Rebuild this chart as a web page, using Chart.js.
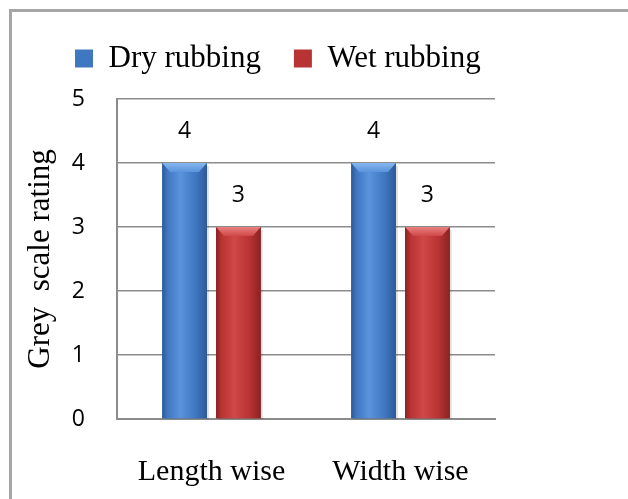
<!DOCTYPE html>
<html>
<head>
<meta charset="utf-8">
<script src="https://cdn.jsdelivr.net/npm/chart.js@4/dist/chart.umd.min.js"></script>
<style>
  html, body { margin: 0; padding: 0; background: #fff; }
  #wrap { position: relative; width: 628px; height: 499px; }
  #frame {
    position: absolute; left: 9px; top: 9px; right: 0; bottom: 0;
    border-left: 3px solid #a6a6a6; border-top: 3px solid #a6a6a6;
  }
  canvas { position: absolute; left: 0; top: 0; }
</style>
</head>
<body>
<div id="wrap">
  <div id="frame"></div>
  <canvas id="grafico" width="628" height="499"></canvas>
</div>
<script>
const categorias = ['Length wise', 'Width wise'];
const dryRubbing = [4, 4];
const wetRubbing = [3, 3];
const yTicks = [0, 1, 2, 3, 4, 5];

// cores de cada série: borda escura, meio, brilho
const tons = [
  { dark: '#2c5a96', mid: '#3f77c1', light: '#5a94dc', top: '#86b6ee' },
  { dark: '#8a2222', mid: '#b83333', light: '#d04848', top: '#e88080' }
];

const serif = '"Liberation Serif", "DejaVu Serif", serif';
const sans = '"Open Sans", "Liberation Sans", sans-serif';

// legenda mais alta e deslocada para a direita
const ajusteLegenda = {
  id: 'ajusteLegenda',
  beforeInit(chart) {
    const fit = chart.legend.fit;
    chart.legend.fit = function () {
      fit.call(this);
      this.height += 15;
    };
  },
  afterLayout(chart) {
    chart.legend.left += 20;
    chart.legend.right += 20;
  }
};

// sombreado das barras (efeito chanfrado) e valores acima
const chanfro = {
  id: 'chanfro',
  afterDatasetDraw(chart, args) {
    const ctx = chart.ctx;
    const t = tons[args.index];
    args.meta.data.forEach(bar => {
      const left = bar.x - bar.width / 2;
      const right = bar.x + bar.width / 2;
      const top = bar.y;
      const bottom = bar.base;
      ctx.save();
      ctx.fillStyle = 'rgba(0,0,0,0.12)';
      ctx.fillRect(left + 2, top + 3, bar.width, bottom - top - 2);
      const g = ctx.createLinearGradient(left, 0, right, 0);
      g.addColorStop(0, t.dark);
      g.addColorStop(0.12, t.mid);
      g.addColorStop(0.4, t.light);
      g.addColorStop(0.75, t.mid);
      g.addColorStop(1, t.dark);
      ctx.fillStyle = g;
      ctx.fillRect(left, top, bar.width, bottom - top);
      const h = 9;
      const tg = ctx.createLinearGradient(0, top, 0, top + h);
      tg.addColorStop(0, t.top);
      tg.addColorStop(1, t.light);
      ctx.fillStyle = tg;
      ctx.beginPath();
      ctx.moveTo(left, top);
      ctx.lineTo(right, top);
      ctx.lineTo(right - 8, top + h);
      ctx.lineTo(left + 8, top + h);
      ctx.closePath();
      ctx.fill();
      ctx.restore();
    });
  },
  afterDatasetsDraw(chart) {
    const ctx = chart.ctx;
    ctx.save();
    ctx.fillStyle = '#000';
    ctx.font = '23px ' + sans;
    ctx.textAlign = 'center';
    ctx.textBaseline = 'middle';
    chart.data.datasets.forEach((ds, i) => {
      chart.getDatasetMeta(i).data.forEach((bar, j) => {
        ctx.fillText(ds.data[j], bar.x, bar.y - 32);
      });
    });
    ctx.restore();
  }
};

new Chart(document.getElementById('grafico'), {
  type: 'bar',
  data: {
    labels: categorias,
    datasets: [
      { label: 'Dry rubbing', data: dryRubbing, backgroundColor: tons[0].mid },
      { label: 'Wet rubbing', data: wetRubbing, backgroundColor: tons[1].mid }
    ]
  },
  options: {
    responsive: false,
    animation: false,
    devicePixelRatio: 1,
    layout: { padding: { left: 22, right: 133, top: 10, bottom: 0 } },
    datasets: {
      bar: { barPercentage: 0.83, categoryPercentage: 0.57 }
    },
    plugins: {
      tooltip: { enabled: false },
      legend: {
        position: 'top',
        align: 'start',
        labels: {
          boxWidth: 18,
          boxHeight: 18,
          color: '#000',
          padding: 33,
          font: { family: serif, size: 31 }
        }
      }
    },
    scales: {
      x: {
        afterFit(scale) { scale.height = 80; },
        grid: { display: false, drawTicks: false },
        border: { color: '#8c8c8c', width: 2 },
        ticks: { color: '#000', padding: 35, font: { family: serif, size: 30 } }
      },
      y: {
        min: 0,
        max: 5,
        afterFit(scale) { scale.width = 95; },
        afterBuildTicks(scale) { scale.ticks = yTicks.map(v => ({ value: v })); },
        grid: { color: '#8c8c8c', lineWidth: 1.5, drawTicks: false },
        border: { color: '#8c8c8c', width: 2 },
        ticks: { color: '#000', padding: 32, font: { family: sans, size: 23 } },
        title: {
          display: true,
          text: 'Grey  scale rating',
          color: '#000',
          padding: { top: 0, bottom: 0 },
          font: { family: serif, size: 31 }
        }
      }
    }
  },
  plugins: [ajusteLegenda, chanfro]
});
</script>
</body>
</html>
